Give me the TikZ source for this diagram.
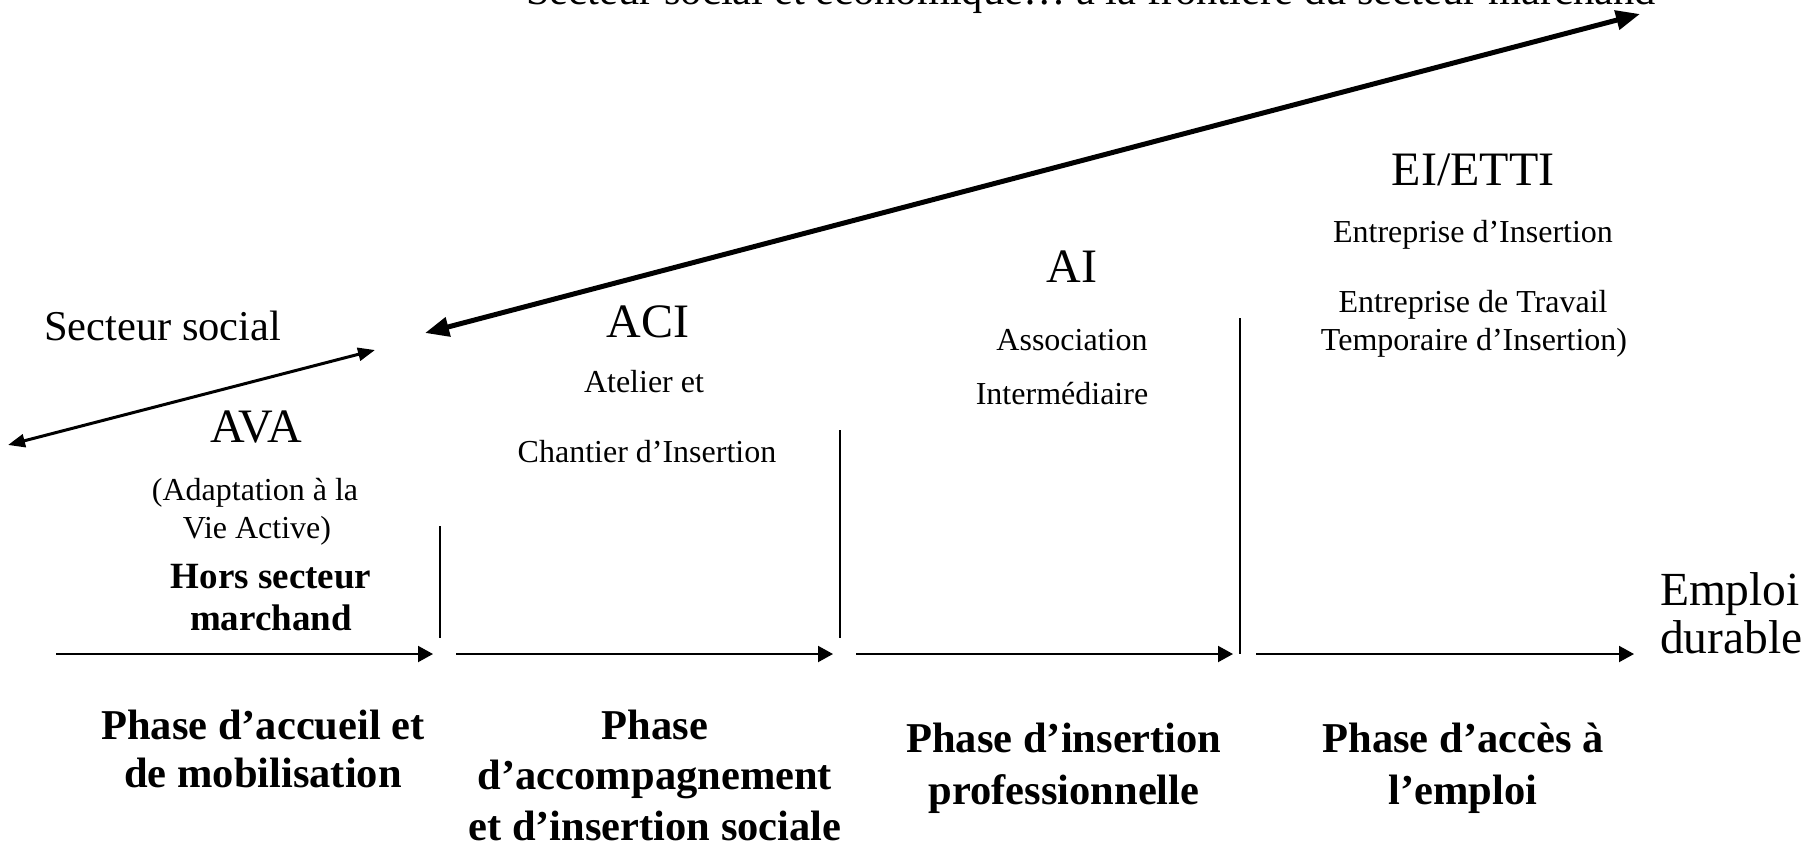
\documentclass[tikz,border=0pt]{standalone}
\usepackage{fontspec}
\setmainfont{Liberation Serif}
\usetikzlibrary{arrows.meta}
\newcommand\fsz[1]{\fontsize{#1}{#1}\selectfont}
\begin{document}
\begin{tikzpicture}[x=1pt,y=-1pt,
  every node/.style={inner sep=0pt,outer sep=0pt,anchor=base},
  smalltxt/.style={font=\fsz{32}},
  bigtxt/.style={font=\fsz{48}},
  secttxt/.style={font=\fsz{42.5}},
  horstxt/.style={font=\bfseries\fsz{37}},
  phasetxt/.style={font=\bfseries\fsz{42.5}},
  flowarrow/.style={line width=2pt,-{Triangle[length=15pt,width=16pt]}},
  sepline/.style={line width=2pt},
  socarrow/.style={line width=3pt,{Triangle[length=17pt,width=13pt]}-{Triangle[length=17pt,width=13pt]}},
  ecoarrow/.style={line width=5pt,{Triangle[length=24pt,width=19pt]}-{Triangle[length=24pt,width=19pt]}}]
\useasboundingbox[fill=white] (0,0) rectangle (1810,846);
\clip (0,0) rectangle (1810,846);

% top label (cut by the frame)
\node[secttxt] (top) at (1091,4) {Secteur social et économique… à la frontière du secteur marchand};
\node[secttxt,anchor=base west] (secsoc) at (44,340) {Secteur social};

% diagonal arrows
\coordinate (w1) at (425,333);
\coordinate (w2) at (1640,14);
\draw[ecoarrow] (w1) -- (w2);
\coordinate (r1) at (8,445);
\coordinate (r2) at (375,350);
\draw[socarrow] (r1) -- (r2);

% AVA
\node[bigtxt] (ava) at (256,442) {AVA};
\node[smalltxt] (ava1) at (255,500) {(Adaptation à la};
\node[smalltxt] (ava2) at (257,538) {Vie Active)};
\node[horstxt] (hs1) at (271,588) {Hors secteur};
\node[horstxt] (hs2) at (271,630) {marchand};

% ACI
\node[bigtxt] (aci) at (648,337) {ACI};
\node[smalltxt] (aci1) at (644,392) {Atelier et};
\node[smalltxt] (aci2) at (647,462) {Chantier d’Insertion};

% AI
\node[bigtxt] (ai) at (1072,282) {AI};
\node[smalltxt] (ai1) at (1072,350) {Association};
\node[smalltxt] (ai2) at (1062,404) {Intermédiaire};

% EI/ETTI
\node[bigtxt] (ei) at (1473,185) {EI/ETTI};
\node[smalltxt] (ei1) at (1473,242) {Entreprise d’Insertion};
\node[smalltxt] (ei2) at (1473,312) {Entreprise de Travail};
\node[smalltxt] (ei3) at (1474,350) {Temporaire d’Insertion)};

% Emploi durable
\node[font=\fsz{47.5},anchor=base west] (emp1) at (1660,605) {Emploi};
\node[font=\fsz{47.5},anchor=base west] (emp2) at (1660,653) {durable};

% separators
\coordinate (s1a) at (440,526); \coordinate (s1b) at (440,638);
\coordinate (s2a) at (840,430); \coordinate (s2b) at (840,638);
\coordinate (s3a) at (1240,318); \coordinate (s3b) at (1240,654);
\draw[sepline] (s1a) -- (s1b);
\draw[sepline] (s2a) -- (s2b);
\draw[sepline] (s3a) -- (s3b);

% flow arrows
\coordinate (f1a) at (56,654);   \coordinate (f1b) at (433,654);
\coordinate (f2a) at (456,654);  \coordinate (f2b) at (833,654);
\coordinate (f3a) at (856,654);  \coordinate (f3b) at (1233,654);
\coordinate (f4a) at (1256,654); \coordinate (f4b) at (1634,654);
\draw[flowarrow] (f1a) -- (f1b);
\draw[flowarrow] (f2a) -- (f2b);
\draw[flowarrow] (f3a) -- (f3b);
\draw[flowarrow] (f4a) -- (f4b);

% phases
\node[phasetxt] (p1a) at (263,739) {Phase d’accueil et};
\node[phasetxt] (p1b) at (263,787) {de mobilisation};
\node[phasetxt] (p2a) at (655,739) {Phase};
\node[phasetxt] (p2b) at (655,789) {d’accompagnement};
\node[phasetxt] (p2c) at (655,840) {et d’insertion sociale};
\node[phasetxt] (p3a) at (1064,752) {Phase d’insertion};
\node[phasetxt] (p3b) at (1064,804) {professionnelle};
\node[phasetxt] (p4a) at (1463,752) {Phase d’accès à};
\node[phasetxt] (p4b) at (1463,804) {l’emploi};
\end{tikzpicture}
\end{document}
